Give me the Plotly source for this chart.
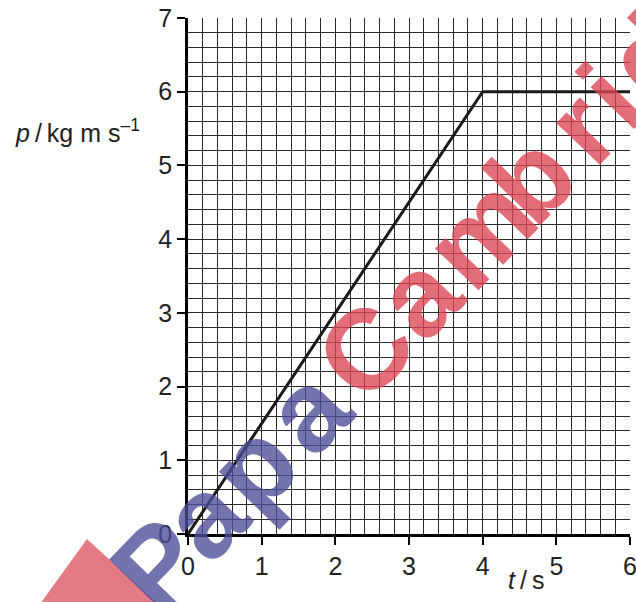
import math
import plotly.graph_objects as go

# Data
t_values = [0, 4, 6]
p_values = [0, 6, 6]
x_ticks = [0, 1, 2, 3, 4, 5, 6]
y_ticks = [0, 1, 2, 3, 4, 5, 6, 7]

W, H = 636, 602
L, R, T, B = 188, 6, 18, 68
PW, PH = W - L - R, H - T - B


def px(x):
    return (x - L) / PW


def py(y):
    return (H - B - y) / PH


fig = go.Figure()
fig.add_trace(go.Scatter(x=t_values, y=p_values, mode="lines",
                         line=dict(color="#1a1a1a", width=3), hoverinfo="skip",
                         showlegend=False))

font = "Liberation Sans, Arial, sans-serif"
grid_col = "#2a2a2a"
axis_common = dict(
    showline=True, linecolor="black", linewidth=2.5,
    ticks="outside", ticklen=8, tickwidth=2, tickcolor="black",
    showgrid=True, gridcolor=grid_col, gridwidth=1.2,
    zeroline=False, automargin=False, ticklabeloverflow="allow",
    tickfont=dict(family=font, size=25, color="#222"),
    fixedrange=True,
)

fig.update_xaxes(range=[0, 6], tickvals=x_ticks, ticktext=[str(v) for v in x_ticks],
                 minor=dict(dtick=0.2, showgrid=True, gridcolor=grid_col, gridwidth=1.2),
                 **axis_common)
fig.update_yaxes(range=[0, 7], tickvals=y_ticks, ticktext=[str(v) for v in y_ticks],
                 minor=dict(dtick=0.2, showgrid=True, gridcolor=grid_col, gridwidth=1.2),
                 **axis_common)

# Watermark triangle
fig.add_shape(type="path", xref="paper", yref="paper",
              path=f"M {px(87)} {py(539)} L {px(158)} {py(604)} L {px(40)} {py(604)} Z",
              fillcolor="rgba(222,100,110,0.85)", line=dict(width=0), layer="above")

# Watermark text, letter by letter along a diagonal
ang = math.radians(46)
dx, dy = math.cos(ang), -math.sin(ang)
nx, ny = math.sin(ang), math.cos(ang)
n0 = 506
letters = ["P", "a", "p", "a", "C", "a", "m", "b", "r", "i", "d"]
s_pos = [-296, -230, -160, -82, 2, 78, 166, 240, 312, 356, 412]
cols = ["#4d4d98"] * 4 + ["#dc4654"] * 7
for ch, s, c in zip(letters, s_pos, cols):
    X = s * dx + n0 * nx
    Y = s * dy + n0 * ny
    fig.add_annotation(
        xref="paper", yref="paper", x=px(X), y=py(Y), xanchor="center", yanchor="middle",
        text=ch, textangle=-46, showarrow=False, opacity=0.78,
        font=dict(family=font, size=114, weight="bold", color=c),
    )

# Axis titles
fig.add_annotation(
    xref="paper", yref="paper", x=px(13), y=py(131), xanchor="left", yanchor="middle",
    text="<i>p</i>\u2009/\u2009kg m s<sup>\u20131</sup>", showarrow=False,
    font=dict(family=font, size=25, color="#222"),
)
fig.add_annotation(
    xref="paper", yref="paper", x=px(526), y=py(580), xanchor="center", yanchor="middle",
    text="<i>t</i>\u2009/\u2009s", showarrow=False,
    font=dict(family=font, size=25, color="#222"),
)

fig.update_layout(
    width=W, height=H, margin=dict(l=L, r=R, t=T, b=B),
    paper_bgcolor="white", plot_bgcolor="white",
)

fig.write_html("out.html", config={"displayModeBar": False},
               post_script="document.body.style.margin='0';document.body.style.overflow='hidden';")
